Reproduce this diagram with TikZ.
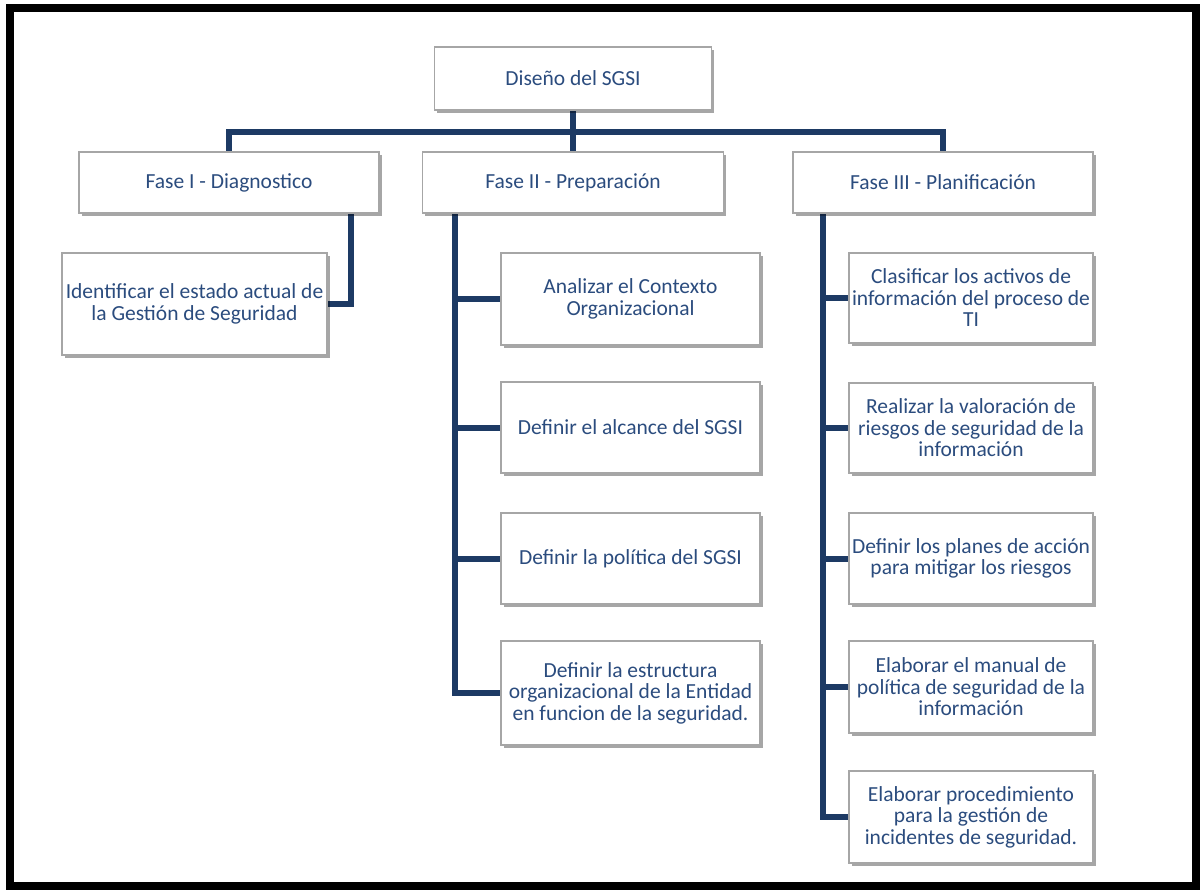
\documentclass[tikz,border=0pt]{standalone}
\usepackage{fontspec}
\setmainfont{Carlito}
\usetikzlibrary{shadows}
\definecolor{txtblue}{HTML}{2B4C7E}
\definecolor{linkblue}{HTML}{1D3A64}
\definecolor{boxgray}{HTML}{A6A6A6}
\pgfdeclarelayer{background}
\pgfsetlayers{background,main}
\begin{document}
\begin{tikzpicture}[x=1pt,y=-1pt,
  card/.style={draw=boxgray, line width=1.3pt, fill=white, inner sep=1pt,
    align=center, text=txtblue, font=\fontsize{21.5}{21.5}\selectfont,
    drop shadow={shadow xshift=2.5pt, shadow yshift=-3pt, fill=black, opacity=0.35}},
  link/.style={draw=linkblue, line width=6pt, line cap=rect}]
\useasboundingbox (0,0) rectangle (1204,890);
% outer frame
\draw[line width=8pt] (10,8) rectangle (1196,886);

% root and phases
\node[card, minimum width=277pt, minimum height=63pt] (root) at (573,78.5) {Diseño del SGSI};
\node[card, minimum width=300pt, minimum height=61pt] (f1) at (229,182.5) {Fase I - Diagnostico};
\node[card, minimum width=301pt, minimum height=61pt] (f2) at (573,182.5) {Fase II - Preparación};
\node[card, minimum width=300pt, minimum height=61pt] (f3) at (943,182.5) {Fase III - Planificación};

% phase I task
\node[card, minimum width=265pt, minimum height=102pt] (i1) at (194.5,304) {Identificar el estado actual de\\la Gestión de Seguridad};

% phase II tasks
\node[card, minimum width=259pt, minimum height=92pt] (d1) at (630.5,299) {Analizar el Contexto\\Organizacional};
\node[card, minimum width=259pt, minimum height=91pt] (d2) at (630.5,427.5) {Definir el alcance del SGSI};
\node[card, minimum width=259pt, minimum height=91pt] (d3) at (630.5,558.5) {Definir la política del SGSI};
\node[card, minimum width=259pt, minimum height=104pt] (d4) at (630.5,693) {Definir la estructura\\organizacional de la Entidad\\en funcion de la seguridad.};

% phase III tasks
\node[card, minimum width=244pt, minimum height=90pt] (p1) at (971,298) {Clasificar los activos de\\información del proceso de\\TI};
\node[card, minimum width=244pt, minimum height=90pt] (p2) at (971,428) {Realizar la valoración de\\riesgos de seguridad de la\\información};
\node[card, minimum width=244pt, minimum height=91pt] (p3) at (971,558.5) {Definir los planes de acción\\para mitigar los riesgos};
\node[card, minimum width=244pt, minimum height=92pt] (p4) at (971,687) {Elaborar el manual de\\política de seguridad de la\\información};
\node[card, minimum width=244pt, minimum height=92pt] (p5) at (971,817) {Elaborar procedimiento\\para la gestión de\\incidentes de seguridad.};

% trunk positions
\coordinate (t1) at (351,0);
\coordinate (t2) at (455,0);
\coordinate (t3) at (823,0);

\begin{pgfonlayer}{background}
% top level
\draw[link] (root.south) -- (f2.north);
\draw[link] (f1.north) -- ++(0,-19) -| (f3.north);
% phase I
\draw[link] (t1 |- f1.south) |- (i1.east);
% phase II
\draw[link] (t2 |- f2.south) |- (d4.west);
\draw[link] (t2 |- d1.west) -- (d1.west);
\draw[link] (t2 |- d2.west) -- (d2.west);
\draw[link] (t2 |- d3.west) -- (d3.west);
% phase III
\draw[link] (t3 |- f3.south) |- (p5.west);
\draw[link] (t3 |- p1.west) -- (p1.west);
\draw[link] (t3 |- p2.west) -- (p2.west);
\draw[link] (t3 |- p3.west) -- (p3.west);
\draw[link] (t3 |- p4.west) -- (p4.west);
\end{pgfonlayer}
\end{tikzpicture}
\end{document}
